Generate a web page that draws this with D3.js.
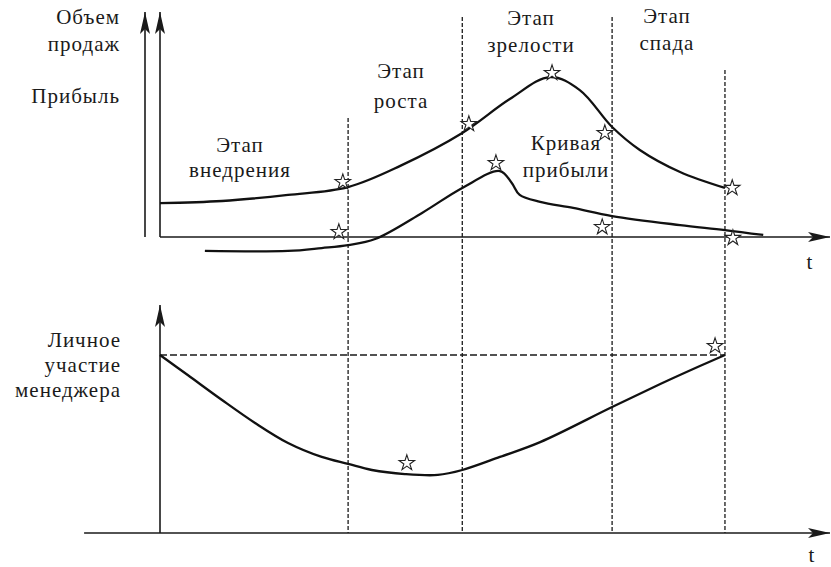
<!DOCTYPE html>
<html>
<head>
<meta charset="utf-8">
<script src="https://cdn.jsdelivr.net/npm/d3@7"></script>
<style>
  body { margin: 0; background: #fff; }
</style>
</head>
<body>
<svg></svg>
<script>
// time in conventional units, values in % of axis height
var stageBounds = [28.5, 45.8, 68.5, 85.6];
var stageTops = [52.9, 97.8, 97.8, 74.2];

var salesT = [0, 9.4, 19.4, 28.5, 36.4, 45.8, 53.0, 59.1, 63.6, 68.5, 72.7, 78.8, 85.6];
var salesV = [15.1, 16, 18.7, 22.2, 31.6, 46.2, 61.3, 71.1, 65.3, 48.9, 38.7, 28.9, 21.8];

var profitT = [6.8, 19.4, 24.5, 28.5, 32.6, 39.7, 45.8, 51.5, 53.3, 54.5, 57.6, 62.6, 68.5, 78.8, 85.6, 91.4];
var profitV = [-6.2, -6.2, -4.9, -3.6, -0.9, 10.7, 21.8, 29.3, 24, 18.7, 15.6, 12.9, 9.3, 5.3, 3.1, 0.9];

var managerT = [0, 4.2, 9.4, 14.4, 19.4, 24.5, 28.5, 32.1, 37.1, 42.1, 45.8, 51.5, 57.6, 68.5, 75.8, 81.8, 85.6];
var managerV = [79.1, 70.2, 59.1, 48.9, 40, 33.8, 30.7, 28, 26.2, 25.8, 28, 33.8, 40.4, 56, 66.2, 74.2, 79.1];

var topStars = [[27.7, 24.4], [27.1, 2.2], [46.8, 50.2], [59.4, 72.9], [50.9, 32.9],
                [67.4, 46.2], [67, 4.4], [86.7, 21.8], [86.8, -0.4]];
var bottomStars = [[37.4, 31.1], [84.1, 83.1]];

var stageLabels = [["Этап", "внедрения"], ["Этап", "роста"], ["Этап", "зрелости"], ["Этап", "спада"]];

var svg = d3.select("svg").attr("width", 831).attr("height", 567);

var xScale = d3.scaleLinear().domain([0, 100]).range([160, 820]),
    yTop = d3.scaleLinear().domain([0, 100]).range([237, 12]),
    yBot = d3.scaleLinear().domain([0, 100]).range([533, 308]);

// arrowhead
svg.append("defs").append("marker")
    .attr("id", "arrow")
    .attr("viewBox", "0 -5 22 10")
    .attr("refX", 22).attr("refY", 0)
    .attr("markerWidth", 22).attr("markerHeight", 10)
    .attr("markerUnits", "userSpaceOnUse")
    .attr("orient", "auto")
    .append("path")
    .attr("d", "M0,-5L22,0L0,5L5,0Z")
    .style("fill", "#1a1a1a");

function axisLine(x1, y1, x2, y2) {
    svg.append("line")
        .attr("x1", x1).attr("y1", y1).attr("x2", x2).attr("y2", y2)
        .attr("marker-end", "url(#arrow)")
        .style("stroke", "#1a1a1a").style("stroke-width", 1.6);
}

// axes of top panel
axisLine(xScale(0) - 15, yTop(0), xScale(0) - 15, yTop(100));
axisLine(xScale(0), yTop(0), xScale(0), yTop(100));
axisLine(xScale(0), yTop(0), 830, yTop(0));
// axes of bottom panel
axisLine(xScale(0), yBot(0), xScale(0), yBot(100) - 3);
axisLine(xScale(-11.5), yBot(0), 830, yBot(0));

// stage boundaries
svg.append("g").selectAll("line")
    .data(stageBounds)
    .enter()
    .append("line")
    .attr("x1", function (d) { return xScale(d); })
    .attr("x2", function (d) { return xScale(d); })
    .attr("y1", function (d, i) { return yTop(stageTops[i]); })
    .attr("y2", yBot(0))
    .style("stroke", "#1a1a1a")
    .style("stroke-width", 1.3)
    .style("stroke-dasharray", "4,2");

// level of manager participation
svg.append("line")
    .attr("x1", xScale(0)).attr("x2", xScale(stageBounds[3]))
    .attr("y1", yBot(managerV[0])).attr("y2", yBot(managerV[0]))
    .style("stroke", "#1a1a1a")
    .style("stroke-width", 1.4)
    .style("stroke-dasharray", "7,3");

function curve(ts, vs, y) {
    var pts = ts.map(function (t, i) { return [t, vs[i]]; });
    var line = d3.line()
        .x(function (d) { return xScale(d[0]); })
        .y(function (d) { return y(d[1]); })
        .curve(d3.curveCatmullRom.alpha(0.5));
    svg.append("path")
        .datum(pts)
        .attr("d", line)
        .style("fill", "none")
        .style("stroke", "#111")
        .style("stroke-width", 2.3);
}

curve(salesT, salesV, yTop);
curve(profitT, profitV, yTop);
curve(managerT, managerV, yBot);

var star = d3.symbol().type(d3.symbolStar).size(75);
function stars(data, y) {
    svg.append("g").selectAll("path")
        .data(data)
        .enter()
        .append("path")
        .attr("d", star)
        .attr("transform", function (d) { return "translate(" + xScale(d[0]) + "," + y(d[1]) + ")"; })
        .style("fill", "#fff")
        .style("stroke", "#222")
        .style("stroke-width", 1.1);
}
stars(topStars, yTop);
stars(bottomStars, yBot);

function label(lines, x, y, anchor, gap) {
    var t = svg.append("text")
        .attr("text-anchor", anchor)
        .attr("font-family", "'Liberation Serif', 'Times New Roman', serif")
        .attr("font-size", 21)
        .attr("fill", "#1a1a1a")
        .style("letter-spacing", "1px");
    lines.forEach(function (s, i) {
        t.append("tspan").attr("x", x).attr("y", y + i * gap).text(s);
    });
}

label(["Объем", "продаж"], 120, 24, "end", 27);
label(["Прибыль"], 120, 103, "end", 27);
label(stageLabels[0], 240, 152, "middle", 25);
label(stageLabels[1], 401, 78, "middle", 30);
label(stageLabels[2], 531, 25, "middle", 27);
label(stageLabels[3], 667, 23, "middle", 27);
label(["Кривая", "прибыли"], 566, 150, "middle", 27);
label(["Личное", "участие", "менеджера"], 121, 347, "end", 25);
label(["t"], 810, 269, "middle", 0);
label(["t"], 812, 562, "middle", 0);
</script>
</body>
</html>
